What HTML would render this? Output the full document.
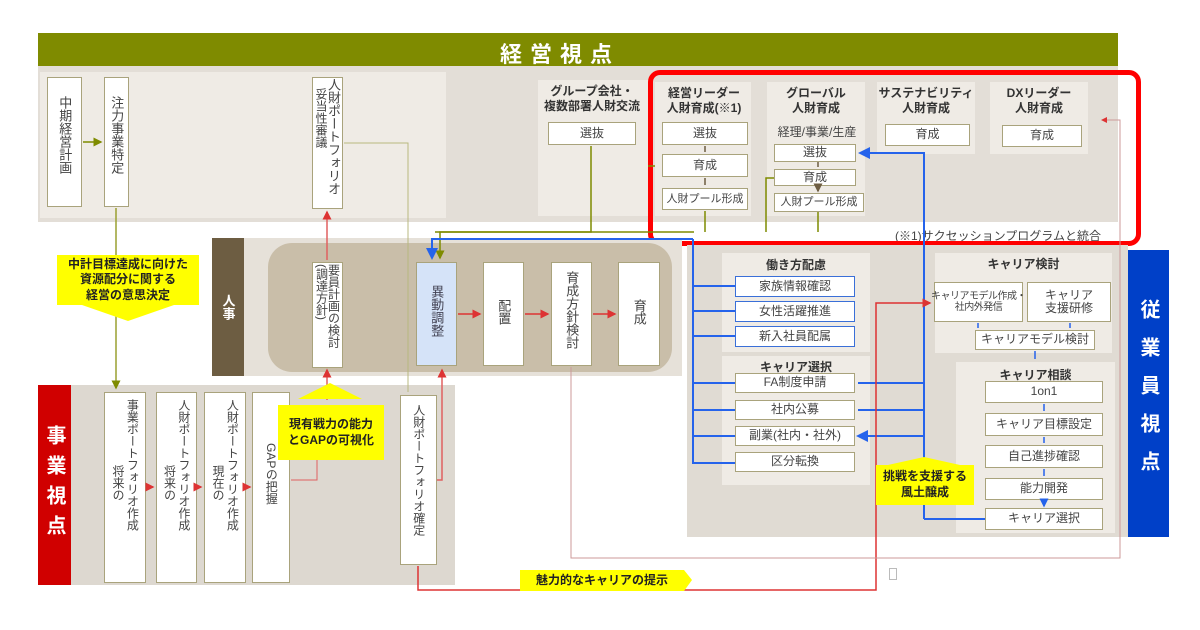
<!DOCTYPE html>
<html><head><meta charset="utf-8"><style>
*{margin:0;padding:0;box-sizing:border-box}
body{width:1200px;height:630px;background:#fff;position:relative;overflow:hidden;font-family:"Liberation Sans","Noto Sans CJK JP",sans-serif;color:#333}
.a{position:absolute}
.bx{position:absolute;background:#fff;border:1px solid #a9a37c;display:flex;align-items:center;justify-content:center;font-size:12px;color:#444;text-align:center;line-height:1.1}
.vb{position:absolute;background:#fff;border:1px solid #a9a37c;display:flex;flex-direction:row-reverse;align-items:flex-start;justify-content:center;color:#444;font-size:13px;padding-top:5px}
.c{writing-mode:vertical-rl;line-height:1.2;white-space:nowrap}
.p{position:absolute;background:#efebe5}
.h{position:absolute;font-size:12px;font-weight:bold;color:#333;text-align:center;line-height:1.25}
.y{position:absolute;background:#ffff00;font-weight:bold;font-size:12px;text-align:center;line-height:1.3;color:#222;display:flex;align-items:center;justify-content:center}
.bb{border-color:#3a6fd8}
</style></head><body>
<div class="a" style="left:38px;top:33px;width:1080px;height:33px;background:#7f8b00"></div>
<div class="a" style="left:500px;top:37px;color:#fff;font-size:22px;font-weight:bold;letter-spacing:8px">経営視点</div>
<div class="a" style="left:38px;top:66px;width:1080px;height:156px;background:#e3ded7"></div>
<div class="p" style="left:40px;top:72px;width:406px;height:146px"></div>
<div class="vb" style="left:47px;top:77px;width:35px;height:130px;padding-top:18px"><div class="c">中期経営計画</div></div>
<div class="vb" style="left:104px;top:77px;width:25px;height:130px;padding-top:18px"><div class="c">注力事業特定</div></div>
<div class="vb" style="left:312px;top:77px;width:31px;height:132px;padding-top:0;font-size:13px"><div class="c" style="line-height:1">人財ポートフォリオ</div><div class="c" style="line-height:1;font-size:12px;margin-top:10px">妥当性審議</div></div>
<div class="p" style="left:538px;top:80px;width:112px;height:136px"></div>
<div class="h" style="left:530px;top:84px;width:124px">グループ会社・<br>複数部署人財交流</div>
<div class="bx" style="left:548px;top:122px;width:88px;height:23px">選抜</div>
<div class="p" style="left:655px;top:82px;width:96px;height:134px"></div>
<div class="h" style="left:652px;top:86px;width:104px">経営リーダー<br>人財育成(※1)</div>
<div class="bx" style="left:662px;top:122px;width:86px;height:23px">選抜</div>
<div class="bx" style="left:662px;top:154px;width:86px;height:23px">育成</div>
<div class="bx" style="left:662px;top:188px;width:86px;height:22px;font-size:11px">人財プール形成</div>
<div class="p" style="left:767px;top:82px;width:98px;height:134px"></div>
<div class="h" style="left:767px;top:86px;width:98px">グローバル<br>人財育成</div>
<div class="a" style="left:765px;top:123px;width:104px;font-size:12px;text-align:center;color:#444">経理/事業/生産</div>
<div class="bx" style="left:774px;top:144px;width:82px;height:18px">選抜</div>
<div class="bx" style="left:774px;top:169px;width:82px;height:17px">育成</div>
<div class="bx" style="left:774px;top:193px;width:90px;height:19px;font-size:11px">人財プール形成</div>
<div class="p" style="left:877px;top:82px;width:98px;height:72px"></div>
<div class="h" style="left:877px;top:86px;width:98px">サステナビリティ<br>人財育成</div>
<div class="bx" style="left:885px;top:124px;width:85px;height:22px">育成</div>
<div class="p" style="left:990px;top:82px;width:98px;height:72px"></div>
<div class="h" style="left:990px;top:86px;width:98px">DXリーダー<br>人財育成</div>
<div class="bx" style="left:1002px;top:125px;width:80px;height:22px">育成</div>
<div class="a" style="left:646px;top:222px;width:480px;height:22px;background:#fff"></div>
<div class="a" style="left:895px;top:227px;font-size:12px;color:#444">(※1)サクセッションプログラムと統合</div>
<div class="a" style="left:648px;top:70px;width:493px;height:176px;border:5px solid #f00;border-radius:12px"></div>

<div class="a" style="left:212px;top:238px;width:32px;height:138px;background:#6d5d42;color:#fff;font-size:13px;font-weight:bold;display:flex;align-items:center;justify-content:center;writing-mode:vertical-rl">人事</div>
<div class="a" style="left:244px;top:238px;width:438px;height:138px;background:#e6e1d9"></div>
<div class="a" style="left:268px;top:243px;width:404px;height:129px;background:#c9bea9;border-radius:24px"></div>
<div class="vb" style="left:312px;top:262px;width:31px;height:106px;padding-top:1px;font-size:12px"><div class="c" style="line-height:1">要員計画の検討</div><div class="c" style="line-height:1">(調達方針)</div></div>
<div class="vb" style="left:416px;top:262px;width:41px;height:104px;background:#d5e3f8;padding-top:22px;color:#445"><div class="c">異動調整</div></div>
<div class="vb" style="left:483px;top:262px;width:41px;height:104px;padding-top:36px"><div class="c">配置</div></div>
<div class="vb" style="left:551px;top:262px;width:41px;height:104px;padding-top:8px"><div class="c">育成方針検討</div></div>
<div class="vb" style="left:618px;top:262px;width:42px;height:104px;padding-top:36px"><div class="c">育成</div></div>

<div class="a" style="left:38px;top:385px;width:33px;height:200px;background:#d00000;color:#fff;font-size:20px;font-weight:bold;writing-mode:vertical-rl;display:flex;align-items:center;justify-content:center;letter-spacing:10px">事業視点</div>
<div class="a" style="left:71px;top:385px;width:384px;height:200px;background:#ddd8d0"></div>
<div class="vb" style="left:104px;top:392px;width:42px;height:191px;font-size:12px;padding-top:6px"><div class="c">事業ポートフォリオ作成</div><div class="c" style="margin-top:66px">将来の</div></div>
<div class="vb" style="left:156px;top:392px;width:41px;height:191px;font-size:12px;padding-top:6px"><div class="c">人財ポートフォリオ作成</div><div class="c" style="margin-top:66px">将来の</div></div>
<div class="vb" style="left:204px;top:392px;width:42px;height:191px;font-size:12px;padding-top:6px"><div class="c">人財ポートフォリオ作成</div><div class="c" style="margin-top:66px">現在の</div></div>
<div class="vb" style="left:252px;top:392px;width:38px;height:191px;font-size:12px;padding-top:50px"><div class="c">GAPの把握</div></div>
<div class="vb" style="left:400px;top:395px;width:37px;height:170px;font-size:12px;padding-top:8px"><div class="c">人財ポートフォリオ確定</div></div>

<div class="a" style="left:687px;top:245px;width:441px;height:292px;background:#e0dbd3"></div>
<div class="p" style="left:722px;top:253px;width:148px;height:232px"></div>
<div class="h" style="left:722px;top:258px;width:148px">働き方配慮</div>
<div class="bx bb" style="left:735px;top:276px;width:120px;height:21px">家族情報確認</div>
<div class="bx bb" style="left:735px;top:301px;width:120px;height:21px">女性活躍推進</div>
<div class="bx bb" style="left:735px;top:326px;width:120px;height:21px">新入社員配属</div>
<div class="a" style="left:722px;top:352px;width:148px;height:4px;background:#e0dbd3"></div>
<div class="h" style="left:722px;top:360px;width:148px">キャリア選択</div>
<div class="bx" style="left:735px;top:373px;width:120px;height:20px">FA制度申請</div>
<div class="bx" style="left:735px;top:400px;width:120px;height:20px">社内公募</div>
<div class="bx" style="left:735px;top:426px;width:120px;height:20px">副業(社内・社外)</div>
<div class="bx" style="left:735px;top:452px;width:120px;height:20px">区分転換</div>
<div class="p" style="left:935px;top:253px;width:177px;height:100px"></div>
<div class="h" style="left:935px;top:257px;width:177px">キャリア検討</div>
<div class="bx" style="left:934px;top:282px;width:89px;height:40px;font-size:10px;letter-spacing:-0.5px;white-space:nowrap">キャリアモデル作成・<br>社内外発信</div>
<div class="bx" style="left:1027px;top:282px;width:84px;height:40px">キャリア<br>支援研修</div>
<div class="bx" style="left:975px;top:330px;width:120px;height:20px">キャリアモデル検討</div>
<div class="p" style="left:956px;top:362px;width:159px;height:171px"></div>
<div class="h" style="left:956px;top:368px;width:159px">キャリア相談</div>
<div class="bx" style="left:985px;top:381px;width:118px;height:22px">1on1</div>
<div class="bx" style="left:985px;top:413px;width:118px;height:23px">キャリア目標設定</div>
<div class="bx" style="left:985px;top:445px;width:118px;height:23px">自己進捗確認</div>
<div class="bx" style="left:985px;top:478px;width:118px;height:22px">能力開発</div>
<div class="bx" style="left:985px;top:508px;width:118px;height:22px">キャリア選択</div>
<div class="a" style="left:1128px;top:250px;width:41px;height:287px;background:#0040c8;color:#fff;font-size:20px;font-weight:bold;writing-mode:vertical-rl;display:flex;align-items:center;justify-content:center;letter-spacing:18px">従業員視点</div>

<svg class="a" style="left:0;top:0" width="1200" height="630">
<defs>
<marker id="r" markerWidth="6" markerHeight="6" refX="5" refY="3" orient="auto"><path d="M0,0L6,3L0,6z" fill="#d33"/></marker>
<marker id="b" markerWidth="6" markerHeight="6" refX="5" refY="3" orient="auto"><path d="M0,0L6,3L0,6z" fill="#2563eb"/></marker>
<marker id="g" markerWidth="6" markerHeight="6" refX="5" refY="3" orient="auto"><path d="M0,0L6,3L0,6z" fill="#7f8b00"/></marker>
<marker id="k" markerWidth="6" markerHeight="6" refX="5" refY="3" orient="auto"><path d="M0,0L6,3L0,6z" fill="#6d5d42"/></marker>
</defs>
<g fill="none" stroke-width="1.5">
<path d="M83,142H101" stroke="#7f8b00" marker-end="url(#g)"/>
<path d="M116,208V388" stroke="#9aa030" marker-end="url(#g)"/>
<path d="M344,143H408V392" stroke="#b8b880" stroke-width="1"/>
<path d="M327,260V212" stroke="#e06060" marker-end="url(#r)"/>
<path d="M327,400V370" stroke="#e06060" marker-end="url(#r)"/>
<path d="M291,480H317V460" stroke="#e06060" stroke-width="1"/>
<path d="M458,314H480" stroke="#d33" marker-end="url(#r)"/>
<path d="M525,314H548" stroke="#d33" marker-end="url(#r)"/>
<path d="M593,314H615" stroke="#d33" marker-end="url(#r)"/>
<path d="M147,487H153" stroke="#d33" marker-end="url(#r)"/>
<path d="M198,487H201" stroke="#d33" marker-end="url(#r)"/>
<path d="M247,487H250" stroke="#d33" marker-end="url(#r)"/>
<path d="M437,480H442V370" stroke="#e06060" marker-end="url(#r)"/>
<path d="M591,146V232H440V258" stroke="#7f8b00" marker-end="url(#g)"/>
<path d="M694,232H435" stroke="#7f8b00"/>
<path d="M705,211V232M818,212V232M766,232V178H774" stroke="#7f8b00"/>
<path d="M655,166H648" stroke="#7f8b00"/>
<path d="M693,239H432V258" stroke="#2563eb" stroke-width="2" marker-end="url(#b)"/>
<path d="M693,239V463H735M693,286H735M693,311H735M693,336H735M693,383H735M693,410H735M693,436H735" stroke="#2563eb" stroke-width="2"/>
<path d="M924,519H985M924,519V153H860" stroke="#2563eb" stroke-width="2" marker-end="url(#b)"/>
<path d="M924,383H858M924,410H858M924,436H858" stroke="#2563eb" stroke-width="2" marker-end="url(#b)"/>
<path d="M705,146V152M705,178V185M818,162V167M818,186V191" stroke="#6d5d42" marker-end="url(#k)"/>
<path d="M978,323V328M1070,323V328M1035,351V359M1044,404V411M1044,437V443M1044,469V476M1044,501V506" stroke="#2563eb" marker-end="url(#b)"/>
<path d="M418,566V590H876V303H930" stroke="#d33" marker-end="url(#r)"/>
<path d="M571,367V558H1120V120H1102" stroke="#cc9a9a" stroke-width="1" marker-end="url(#r)"/>
</g>
</svg>

<div class="y" style="left:57px;top:255px;width:142px;height:50px">中計目標達成に向けた<br>資源配分に関する<br>経営の意思決定</div>
<div class="a" style="left:82px;top:305px;width:0;height:0;border-left:46px solid transparent;border-right:46px solid transparent;border-top:16px solid #ffff00"></div>
<div class="a" style="left:298px;top:383px;width:0;height:0;border-left:32px solid transparent;border-right:32px solid transparent;border-bottom:16px solid #ffff00"></div>
<div class="y" style="left:278px;top:405px;width:106px;height:55px">現有戦力の能力<br>とGAPの可視化</div>
<div class="a" style="left:888px;top:457px;width:0;height:0;border-left:36px solid transparent;border-right:36px solid transparent;border-bottom:8px solid #ffff00"></div>
<div class="y" style="left:876px;top:465px;width:98px;height:40px">挑戦を支援する<br>風土醸成</div>
<div class="y" style="left:520px;top:570px;width:164px;height:21px">魅力的なキャリアの提示</div>
<div class="a" style="left:684px;top:570px;width:0;height:0;border-top:10px solid transparent;border-bottom:11px solid transparent;border-left:8px solid #ffff00"></div>
<div class="a" style="left:889px;top:568px;width:8px;height:12px;border:1px solid #bbb"></div>
</body></html>
